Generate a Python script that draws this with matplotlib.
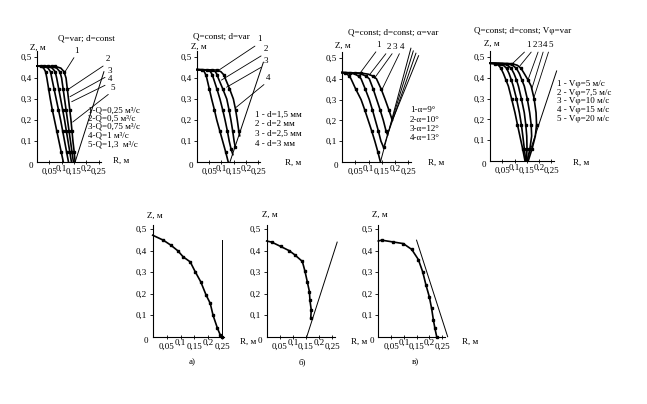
import matplotlib
matplotlib.use('Agg')
import matplotlib.pyplot as plt

plt.rcParams['font.family'] = ['Liberation Serif', 'DejaVu Serif']
plt.rcParams['font.size'] = 6.5

# ---------------- data ----------------
y_ticks = [0.1, 0.2, 0.3, 0.4, 0.5]
y_tick_labels = ['0,1', '0,2', '0,3', '0,4', '0,5']
x_ticks = [0.05, 0.1, 0.15, 0.2, 0.25]
x_tick_labels = ['0,05', '0,1', '0,15', '0,2', '0,25']

# Panel 1: Q=var; d=const
p1_Z = [0.457, 0.455, 0.447, 0.43, 0.40, 0.35, 0.30, 0.25, 0.20, 0.15, 0.10, 0.05, 0.0]
p1_R1 = [0, 0.075, 0.097, 0.11, 0.118, 0.123, 0.128, 0.133, 0.138, 0.142, 0.146, 0.151, 0.155]
p1_R2 = [0, 0.06, 0.08, 0.093, 0.100, 0.106, 0.112, 0.118, 0.124, 0.130, 0.136, 0.142, 0.148]
p1_R3 = [0, 0.045, 0.062, 0.074, 0.080, 0.088, 0.096, 0.104, 0.112, 0.119, 0.126, 0.133, 0.140]
p1_R4 = [0, 0.03, 0.045, 0.055, 0.060, 0.069, 0.078, 0.087, 0.096, 0.104, 0.112, 0.120, 0.128]
p1_R5 = [0, 0.015, 0.027, 0.035, 0.040, 0.047, 0.054, 0.062, 0.071, 0.080, 0.089, 0.098, 0.107]
p1_wall_R = [0.155, 0.272]
p1_wall_Z = [0.0, 0.43]
p1_num_text = [(0.161, 0.51), (0.289, 0.47), (0.297, 0.414), (0.297, 0.375), (0.308, 0.335)]
p1_num_end = [(0.114, 0.43), (0.127, 0.346), (0.134, 0.311), (0.141, 0.287), (0.145, 0.19)]
p1_legend = ['1-Q=0,25 м³/с', '2-Q=0,5 м³/с', '3-Q=0,75 м³/с', '4-Q=1 м³/с', '5-Q=1,3  м³/с']

# Panel 2: Q=const; d=var
p2_R1 = [0, 0.02, 0.03, 0.036, 0.04, 0.05, 0.06, 0.071, 0.081, 0.093, 0.105, 0.117, 0.128]
p2_Z1 = [0.44, 0.438, 0.43, 0.415, 0.40, 0.35, 0.30, 0.25, 0.20, 0.15, 0.10, 0.05, 0.0]
p2_R2 = [0, 0.04, 0.055, 0.063, 0.067, 0.081, 0.094, 0.105, 0.115, 0.124, 0.132, 0.140, 0.147]
p2_Z2 = [0.44, 0.438, 0.43, 0.415, 0.40, 0.35, 0.30, 0.25, 0.20, 0.15, 0.10, 0.06, 0.035]
p2_R3 = [0, 0.06, 0.075, 0.083, 0.087, 0.105, 0.122, 0.131, 0.139, 0.146, 0.152, 0.157]
p2_Z3 = [0.44, 0.438, 0.43, 0.415, 0.40, 0.35, 0.30, 0.25, 0.20, 0.15, 0.10, 0.07]
p2_R4 = [0, 0.08, 0.098, 0.11, 0.115, 0.133, 0.149, 0.158, 0.165, 0.171, 0.175]
p2_Z4 = [0.44, 0.438, 0.43, 0.415, 0.40, 0.35, 0.30, 0.25, 0.20, 0.15, 0.125]
p2_wall_R = [0.135, 0.272]
p2_wall_Z = [0.0, 0.475]
p2_num_text = [(0.258, 0.565), (0.283, 0.517), (0.283, 0.462), (0.292, 0.382)]
p2_num_end = [(0.08, 0.43), (0.10, 0.39), (0.121, 0.356), (0.160, 0.26)]
p2_legend = ['1 - d=1,5 мм', '2 - d=2 мм', '3 - d=2,5 мм', '4 - d=3 мм']

# Panel 3: Q=const; d=const; alpha=var
p3_R1 = [0, 0.01, 0.02, 0.028, 0.034, 0.052, 0.072, 0.086, 0.099, 0.112, 0.124, 0.135, 0.145]
p3_Z1 = [0.43, 0.428, 0.422, 0.412, 0.40, 0.35, 0.30, 0.25, 0.20, 0.15, 0.10, 0.05, 0.0]
p3_R2 = [0, 0.03, 0.05, 0.063, 0.072, 0.088, 0.103, 0.115, 0.126, 0.137, 0.147, 0.157]
p3_Z2 = [0.43, 0.428, 0.422, 0.412, 0.40, 0.35, 0.30, 0.25, 0.20, 0.15, 0.10, 0.07]
p3_R3 = [0, 0.05, 0.075, 0.092, 0.103, 0.118, 0.131, 0.144, 0.156, 0.166, 0.172]
p3_Z3 = [0.43, 0.428, 0.422, 0.412, 0.40, 0.35, 0.30, 0.25, 0.20, 0.15, 0.13]
p3_R4 = [0, 0.07, 0.10, 0.118, 0.13, 0.148, 0.163, 0.177, 0.19]
p3_Z4 = [0.43, 0.428, 0.422, 0.412, 0.40, 0.35, 0.30, 0.25, 0.20]
p3_wall_R = [[0.145, 0.26], [0.157, 0.269], [0.172, 0.279], [0.19, 0.289]]
p3_wall_Z = [[0.0, 0.547], [0.07, 0.534], [0.13, 0.523], [0.20, 0.511]]
p3_num_text = [(0.139, 0.543), (0.177, 0.534), (0.200, 0.534), (0.225, 0.534)]
p3_num_end = [(0.072, 0.434), (0.103, 0.418), (0.122, 0.402), (0.153, 0.354)]
p3_legend = ['1-α=9°', '2-α=10°', '3-α=12°', '4-α=13°']

# Panel 4: Q=const; d=const; Vphi=var
p4_Z = [0.47, 0.468, 0.46, 0.445, 0.42, 0.39, 0.36, 0.30, 0.232, 0.175, 0.12, 0.06, 0.0]
p4_R1 = [0, 0.02, 0.035, 0.045, 0.055, 0.065, 0.075, 0.088, 0.102, 0.112, 0.122, 0.133, 0.143]
p4_R2 = [0, 0.035, 0.055, 0.068, 0.078, 0.087, 0.095, 0.108, 0.12, 0.128, 0.134, 0.14, 0.146]
p4_R3 = [0, 0.05, 0.072, 0.087, 0.098, 0.108, 0.116, 0.128, 0.14, 0.146, 0.15, 0.151, 0.149]
p4_R4 = [0, 0.07, 0.092, 0.108, 0.12, 0.13, 0.14, 0.152, 0.162, 0.168, 0.17, 0.163, 0.152]
p4_R5 = [0, 0.09, 0.112, 0.127, 0.14, 0.155, 0.168, 0.18, 0.188, 0.19, 0.185, 0.172, 0.156]
p4_wall_R = [0.15, 0.272]
p4_wall_Z = [0.0, 0.433]
p4_num_text = [(0.156, 0.537), (0.181, 0.537), (0.204, 0.537), (0.224, 0.537), (0.246, 0.537)]
p4_num_end = [(0.089, 0.465), (0.122, 0.457), (0.156, 0.393), (0.17, 0.345), (0.177, 0.297)]
p4_legend = ['1 - Vφ=5 м/с', '2 - Vφ=7,5 м/с', '3 - Vφ=10 м/с', '4 - Vφ=15 м/с', '5 - Vφ=20 м/с']

# Bottom panels
pa_R = [0, 0.038, 0.065, 0.09, 0.11, 0.135, 0.153, 0.173, 0.192, 0.207, 0.217, 0.233, 0.243, 0.25]
pa_Z = [0.472, 0.449, 0.426, 0.40, 0.371, 0.348, 0.302, 0.255, 0.194, 0.155, 0.10, 0.039, 0.008, 0.0]
pa_wall_R = [0.25, 0.25]
pa_wall_Z = [0.0, 0.45]

pb_R = [0, 0.019, 0.053, 0.086, 0.108, 0.136, 0.146, 0.155, 0.163, 0.165, 0.170, 0.168]
pb_Z = [0.445, 0.44, 0.42, 0.40, 0.38, 0.35, 0.305, 0.255, 0.21, 0.17, 0.124, 0.085]
pb_wall_R = [0.153, 0.269]
pb_wall_Z = [0.0, 0.44]

pc_R = [0, 0.013, 0.056, 0.098, 0.131, 0.157, 0.174, 0.187, 0.20, 0.209, 0.216, 0.222, 0.229]
pc_Z = [0.445, 0.449, 0.441, 0.433, 0.406, 0.359, 0.302, 0.24, 0.186, 0.132, 0.078, 0.039, 0.0]
pc_wall_R = [0.272, 0.15]
pc_wall_Z = [0.0, 0.449]

# ---------------- drawing ----------------
W, H = 647, 404
fig = plt.figure(figsize=(W / 100, H / 100), dpi=100)
fig.patch.set_facecolor('white')


def ftext(x, y, s, **kw):
    kw.setdefault('va', 'center')
    fig.text(x / W, 1 - y / H, s, **kw)


def make_axes(x0, y0, sx, sy, xmax, ymax):
    ax = fig.add_axes([x0 / W, 1 - y0 / H, xmax * sx / W, ymax * sy / H])
    ax.set_xlim(0, xmax)
    ax.set_ylim(0, ymax)
    ax.patch.set_alpha(0)
    for s in ('top', 'right'):
        ax.spines[s].set_visible(False)
    for s in ('left', 'bottom'):
        ax.spines[s].set_linewidth(0.8)
    ax.set_yticks(y_ticks)
    ax.set_yticklabels(y_tick_labels)
    ax.set_xticks(x_ticks)
    ax.set_xticklabels(x_tick_labels)
    ax.tick_params(axis='y', direction='out', length=2.5, width=0.6, pad=1.5, labelsize=6.5)
    ax.tick_params(axis='x', direction='inout', length=3, width=0.6, labelsize=6.5)
    for i, t in enumerate(ax.xaxis.get_major_ticks()):
        t.set_pad(2.8 if i % 2 == 0 else 0.3)
    ax.annotate('0', xy=(0, 0), xycoords='data', xytext=(-3, -3),
                textcoords='offset points', ha='right', va='center', fontsize=6.5)
    return ax


def curve(ax, R, Z, step=2):
    ax.plot(R, Z, color='k', lw=1.2, solid_joinstyle='round', clip_on=False)
    ax.plot(R[1::step], Z[1::step], ls='none', color='k', marker='s', ms=1.8, clip_on=False)


def wall(ax, R, Z):
    ax.plot(R, Z, color='k', lw=0.7, clip_on=False)


def numbers(ax, texts, ends):
    for i, (t, e) in enumerate(zip(texts, ends)):
        ax.annotate(str(i + 1), xy=e, xytext=t, xycoords='data', textcoords='data',
                    ha='center', va='bottom', fontsize=6.5, annotation_clip=False,
                    arrowprops=dict(arrowstyle='-', lw=0.6, color='k',
                                    shrinkA=0, shrinkB=0, relpos=(0.3, 0.0)))


def legend(x, y0, dy, lines):
    for i, s in enumerate(lines):
        ftext(x, y0 + i * dy, s, ha='left', fontsize=6.5)


# Panel 1
ax1 = make_axes(37, 162, 246, 210, 0.26, 0.53)
for R in (p1_R1, p1_R2, p1_R3, p1_R4, p1_R5):
    curve(ax1, R, p1_Z)
wall(ax1, p1_wall_R, p1_wall_Z)
numbers(ax1, p1_num_text, p1_num_end)
legend(88, 110, 8.5, p1_legend)
ftext(86, 39, 'Q=var; d=const', ha='center')
ftext(30, 48, 'Z, м', ha='left')
ftext(113, 161, 'R, м', ha='left')

# Panel 2
ax2 = make_axes(197, 162, 244, 210, 0.26, 0.53)
for R, Z in ((p2_R1, p2_Z1), (p2_R2, p2_Z2), (p2_R3, p2_Z3), (p2_R4, p2_Z4)):
    curve(ax2, R, Z)
wall(ax2, p2_wall_R, p2_wall_Z)
numbers(ax2, p2_num_text, p2_num_end)
legend(255, 115, 9.5, p2_legend)
ftext(221, 36, 'Q=const; d=var', ha='center')
ftext(191, 47, 'Z, м', ha='left')
ftext(285, 163, 'R, м', ha='left')

# Panel 3
ax3 = make_axes(342, 162, 265, 208, 0.26, 0.53)
for R, Z in ((p3_R1, p3_Z1), (p3_R2, p3_Z2), (p3_R3, p3_Z3), (p3_R4, p3_Z4)):
    curve(ax3, R, Z)
for R, Z in zip(p3_wall_R, p3_wall_Z):
    wall(ax3, R, Z)
numbers(ax3, p3_num_text, p3_num_end)
legend(410, 110, 9.5, p3_legend)
ftext(393, 33, 'Q=const; d=const; α=var', ha='center')
ftext(335, 46, 'Z, м', ha='left')
ftext(428, 163, 'R, м', ha='left')

# Panel 4
ax4 = make_axes(490, 161, 245, 208, 0.26, 0.53)
for R in (p4_R1, p4_R2, p4_R3, p4_R4, p4_R5):
    curve(ax4, R, p4_Z)
wall(ax4, p4_wall_R, p4_wall_Z)
numbers(ax4, p4_num_text, p4_num_end)
legend(557, 84, 8.7, p4_legend)
ftext(523, 31, 'Q=const; d=const; Vφ=var', ha='center')
ftext(484, 44, 'Z, м', ha='left')
ftext(573, 163, 'R, м', ha='left')

# Bottom a)
axa = make_axes(152.7, 336.7, 278, 215, 0.255, 0.52)
curve(axa, pa_R, pa_Z, step=1)
wall(axa, pa_wall_R, pa_wall_Z)
ftext(147, 216, 'Z, м', ha='left')
ftext(240, 342, 'R, м', ha='left')
ftext(192, 362, 'а)', ha='center')

# Bottom b)
axb = make_axes(266.7, 336.7, 262, 215, 0.26, 0.52)
curve(axb, pb_R, pb_Z, step=1)
wall(axb, pb_wall_R, pb_wall_Z)
ftext(262, 215, 'Z, м', ha='left')
ftext(351, 342, 'R, м', ha='left')
ftext(302, 362, 'б)', ha='center')

# Bottom c)
axc = make_axes(378.3, 336.7, 255, 215, 0.26, 0.52)
curve(axc, pc_R, pc_Z, step=1)
wall(axc, pc_wall_R, pc_wall_Z)
ftext(372, 215, 'Z, м', ha='left')
ftext(462, 342, 'R, м', ha='left')
ftext(415, 362, 'в)', ha='center')

fig.savefig('out.png', dpi=100)
